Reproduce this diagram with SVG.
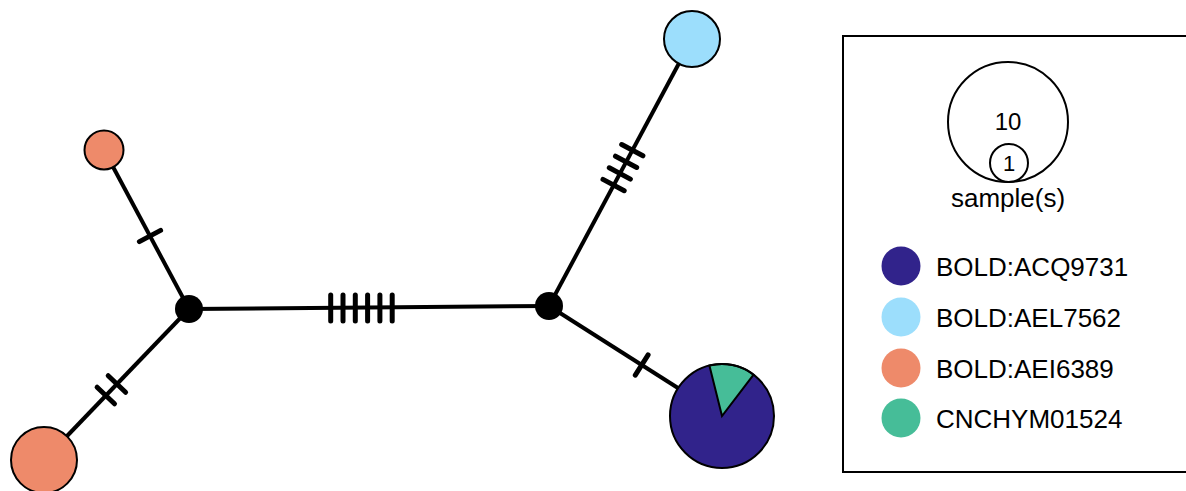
<svg xmlns="http://www.w3.org/2000/svg" width="1186" height="491" viewBox="0 0 1186 491">
  <style>
    .edge { stroke: #000; stroke-width: 4; fill: none; }
    .tick { stroke: #000; stroke-width: 5; stroke-linecap: round; fill: none; }
    .hap { stroke: #000; stroke-width: 2; }
    .med { fill: #000; }
    .lbl { font-family: "Liberation Sans", Arial, sans-serif; fill: #000; }
    .acq { fill: #31238B; }
    .ael { fill: #9CDEFC; }
    .aei { fill: #EE8A6A; }
    .cnc { fill: #46BD98; }
  </style>
  <rect width="1186" height="491" fill="#fff"/>

  <!-- edges with mutation ticks -->
  <g id="connectors">
    <line class="edge" x1="189" y1="309" x2="104" y2="150"/>
    <line class="tick" x1="139.4" y1="241.6" x2="160.6" y2="230.4"/>

    <line class="edge" x1="189" y1="309" x2="44" y2="460"/>
    <line class="tick" x1="108.2" y1="375.7" x2="125.6" y2="392.3"/>
    <line class="tick" x1="97.1" y1="387.2" x2="114.5" y2="403.8"/>

    <line class="edge" x1="189" y1="309" x2="549" y2="306"/>
    <line class="tick" x1="330.7" y1="295" x2="330.7" y2="321"/>
    <line class="tick" x1="343" y1="295" x2="343" y2="321"/>
    <line class="tick" x1="355.3" y1="295" x2="355.3" y2="321"/>
    <line class="tick" x1="367.6" y1="295" x2="367.6" y2="321"/>
    <line class="tick" x1="379.9" y1="295" x2="379.9" y2="321"/>
    <line class="tick" x1="392.2" y1="295" x2="392.2" y2="321"/>

    <line class="edge" x1="549" y1="306" x2="692" y2="39"/>
    <line class="tick" x1="603" y1="179.4" x2="624.2" y2="190.7"/>
    <line class="tick" x1="609.3" y1="167.8" x2="630.4" y2="179.1"/>
    <line class="tick" x1="615.5" y1="156.2" x2="636.7" y2="167.5"/>
    <line class="tick" x1="621.7" y1="144.5" x2="642.9" y2="155.8"/>

    <line class="edge" x1="549" y1="306" x2="722" y2="416"/>
    <line class="tick" x1="648.1" y1="354.9" x2="635.3" y2="375.1"/>
  </g>

  <!-- median vectors -->
  <g id="median-left"><circle class="med" cx="189" cy="309" r="14"/></g>
  <g id="median-right"><circle class="med" cx="549" cy="306" r="14"/></g>

  <!-- haplotypes -->
  <g id="hap-aei-small"><circle class="hap aei" cx="104" cy="150" r="19.5"/></g>
  <g id="hap-aei-large"><circle class="hap aei" cx="44" cy="460" r="33"/></g>
  <g id="hap-ael"><circle class="hap ael" cx="692" cy="39" r="28"/></g>
  <g id="hap-mixed">
    <circle class="acq" cx="722" cy="416" r="52"/>
    <path class="hap cnc" d="M722 416 L709.4 365.5 A52 52 0 0 1 753.6 374.7 Z"/>
    <circle cx="722" cy="416" r="52" fill="none" stroke="#000" stroke-width="2"/>
  </g>

  <!-- legend -->
  <g id="legend">
    <rect x="843" y="36" width="360" height="436" fill="none" stroke="#000" stroke-width="2"/>
    <circle cx="1008" cy="122" r="60" fill="none" stroke="#000" stroke-width="2"/>
    <circle cx="1009" cy="163" r="19" fill="none" stroke="#000" stroke-width="2"/>
    <text class="lbl" x="1008" y="130" font-size="24" text-anchor="middle">10</text>
    <text class="lbl" x="1009" y="171" font-size="22" text-anchor="middle">1</text>
    <text class="lbl" x="1008" y="207" font-size="26" text-anchor="middle">sample(s)</text>

    <circle class="acq" cx="901" cy="266" r="19.5"/>
    <text class="lbl" x="936" y="276" font-size="26">BOLD:ACQ9731</text>
    <circle class="ael" cx="901" cy="317" r="19.5"/>
    <text class="lbl" x="936" y="327" font-size="26">BOLD:AEL7562</text>
    <circle class="aei" cx="901" cy="368" r="19.5"/>
    <text class="lbl" x="936" y="378" font-size="26">BOLD:AEI6389</text>
    <circle class="cnc" cx="901" cy="418" r="19.5"/>
    <text class="lbl" x="936" y="428" font-size="26">CNCHYM01524</text>
  </g>
</svg>
